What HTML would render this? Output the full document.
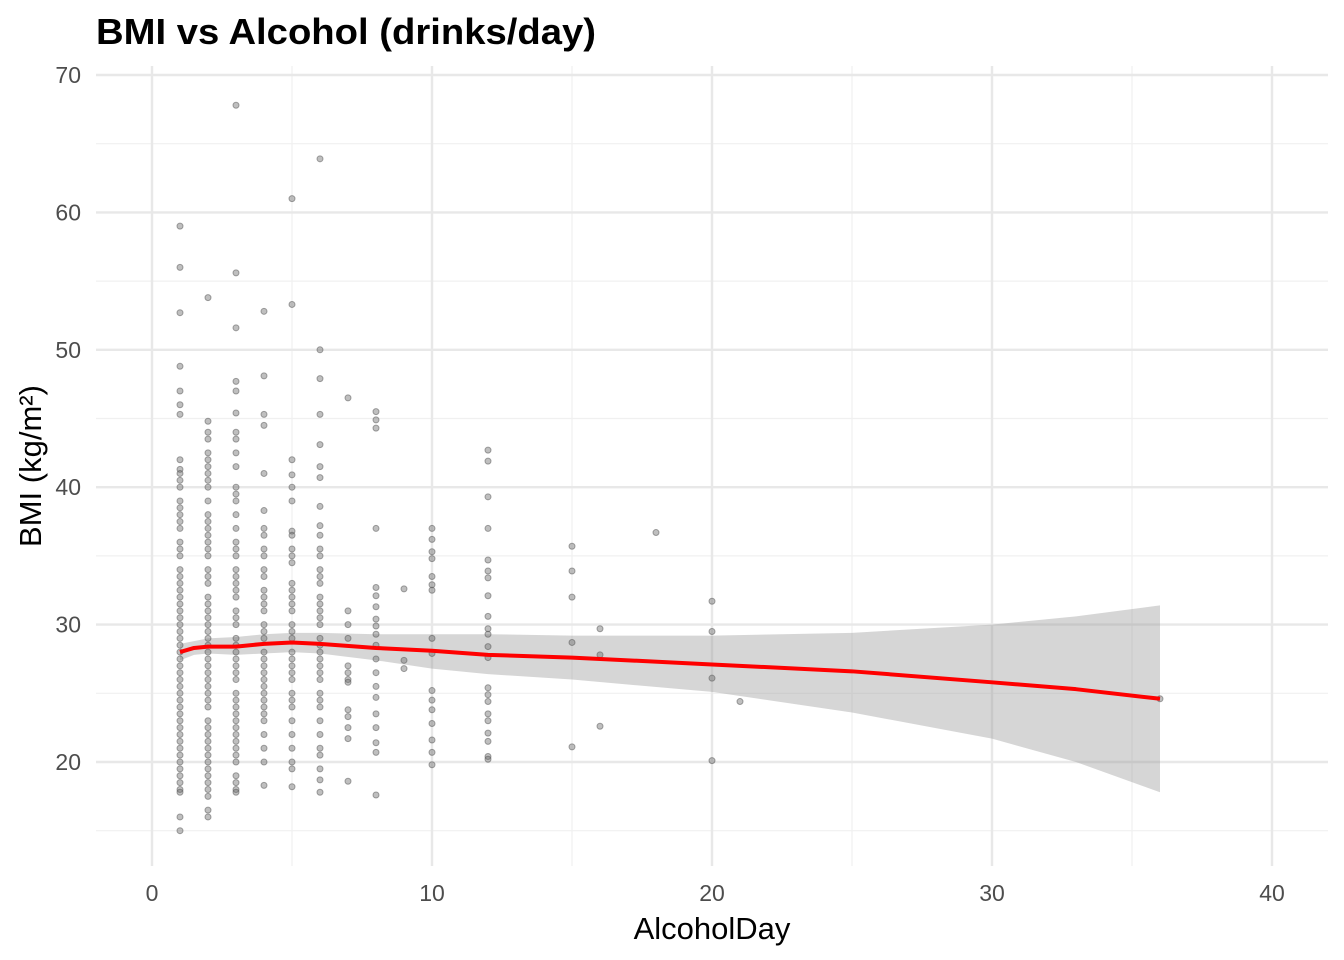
<!DOCTYPE html>
<html><head><meta charset="utf-8"><style>
body{margin:0;background:#fff;}
svg{display:block;font-family:"Liberation Sans",Arial,sans-serif;}
</style></head><body>
<svg id="chart" width="1344" height="960" viewBox="0 0 1344 960">
<rect width="1344" height="960" fill="#fff"/>
<text x="96" y="44" font-size="36" font-weight="bold" fill="#000" textLength="500" lengthAdjust="spacingAndGlyphs">BMI vs Alcohol (drinks/day)</text>
<g id="grid"></g>
<g id="band"></g>
<g id="points"></g>
<g id="line"></g>
<g id="axes"></g>
<text x="712" y="939" font-size="31" text-anchor="middle" fill="#000">AlcoholDay</text>
<text transform="translate(41,466) rotate(-90)" font-size="31" text-anchor="middle" fill="#000">BMI (kg/m²)</text>
</svg>
<script>
const xTicks=[0,10,20,30,40];
const yTicks=[20,30,40,50,60,70];
const pointX=[];
const pointY=[];
const cols={
1:[59,56,52.7,48.8,47,46,45.3,42,41.3,41,40.5,40,39,38.5,38,37.5,37,36,35.5,35,34,33.5,33,32.5,32,31.5,31,30.5,30,29.5,29,28.5,28,27.5,27,26.5,26,25.5,25,24.5,24,23.5,23,22.5,22,21.5,21,20.5,20,19.5,19,18.5,18,17.8,16,15],
2:[53.8,44.8,44,43.5,42.5,42,41.5,41,40.5,40,39,38,37.5,37,36.5,36,35.5,35,34,33.5,33,32,31.5,31,30.5,30,29.5,29,28.5,28,27.5,27,26.5,26,25.5,25,24.5,24,23,22.5,22,21.5,21,20.5,20,19.5,19,18.5,18,17.5,16.5,16],
3:[67.8,55.6,51.6,47.7,47,45.4,44,43.5,42.5,41.5,40,39.5,39,38,37,36,35.5,35,34,33.5,33,32.5,32,31,30.5,30,29,28.5,28,27.5,27,26.5,26,25,24.5,24,23.5,23,22.5,22,21.5,21,20.5,20,19,18.5,18,17.8],
4:[52.8,48.1,45.3,44.5,41,38.3,37,36.5,35.5,35,34,33.5,32.5,32,31.5,31,30,29.5,29,28,27.5,27,26.5,26,25.5,25,24.5,24,23.5,23,22,21,20,18.3],
5:[61,53.3,42,40.9,40,39,36.8,36.5,35.5,35,34.5,33,32.5,32,31.5,31,30,29.5,29,28,27.5,27,26.5,26,25,24.5,24,23,22,21,20,19.5,18.2],
6:[63.9,50,47.9,45.3,43.1,41.5,40.7,38.6,37.2,36.5,35.5,35,34,33.5,33,32,31.5,31,30.5,30,29,28.5,28,27.5,27,26.5,26,25,24.5,24,23,22,21,20.5,19.5,18.7,17.8],
7:[46.5,31,30,29,27,26.5,26,25.8,23.8,23.3,22.5,21.7,18.6],
8:[45.5,44.9,44.3,37,32.7,32.1,31.3,30.4,29.9,29.3,28.5,27.5,26.5,25.5,24.7,23.5,22.5,21.4,20.7,17.6],
9:[32.6,27.4,26.8],
10:[37,36.2,35.3,34.8,33.5,32.9,32.5,29,27.9,25.2,24.5,23.8,22.8,21.6,20.7,19.8],
12:[42.7,41.9,39.3,37,34.7,33.9,33.4,32.1,30.6,29.7,29.3,28.4,27.6,25.4,24.9,24.4,23.5,23,22.1,21.5,20.4,20.2],
15:[35.7,33.9,32,28.7,21.1],
16:[29.7,27.8,22.6],
18:[36.7],
20:[31.7,29.5,26.1,20.1],
21:[24.4],
36:[24.6]
};
const lineX=[1,1.5,2,3,4,5,6,8,10,12,15,20,25,30,33,36];
const lineY=[28.0,28.3,28.4,28.4,28.6,28.7,28.6,28.3,28.1,27.8,27.6,27.1,26.6,25.8,25.3,24.6];
const bandUpper=[28.6,28.8,29.0,29.1,29.3,29.4,29.4,29.3,29.3,29.3,29.2,29.2,29.4,30.0,30.6,31.4];
const bandLower=[27.4,27.8,27.9,27.8,27.9,28.0,27.9,27.4,26.8,26.4,26.0,25.1,23.6,21.7,20.0,17.8];
for(const k in cols){cols[k].forEach(v=>{pointX.push(+k);pointY.push(v);});}

const sx=v=>152+v*28;
const sy=v=>762-(v-20)*13.74;
const NS="http://www.w3.org/2000/svg";
function mk(tag,attrs,parent){const e=document.createElementNS(NS,tag);for(const a in attrs)e.setAttribute(a,attrs[a]);parent.appendChild(e);return e;}
const grid=document.getElementById('grid'),axes=document.getElementById('axes');
const L=96,R=1328,T=66,B=866;
for(let i=0;i<xTicks.length-1;i++){const m=(xTicks[i]+xTicks[i+1])/2;const g=mk('line',{x1:sx(m),x2:sx(m),y1:T,y2:B,stroke:'#f0f0f0','stroke-width':1.2},grid);

}
[15,25,35,45,55,65].forEach(m=>{const g=mk('line',{x1:L,x2:R,y1:sy(m),y2:sy(m),stroke:'#f0f0f0','stroke-width':1.2},grid);

});
xTicks.forEach(t=>{const g=mk('line',{x1:sx(t),x2:sx(t),y1:T,y2:B,stroke:'#e8e8e8','stroke-width':2.4},grid);


const tx=mk('text',{x:sx(t),y:901,'font-size':23,'text-anchor':'middle',fill:'#4d4d4d'},axes);tx.textContent=t;

});
yTicks.forEach(t=>{const g=mk('line',{x1:L,x2:R,y1:sy(t),y2:sy(t),stroke:'#e8e8e8','stroke-width':2.4},grid);


const tx=mk('text',{x:81,y:sy(t)+8,'font-size':23,'text-anchor':'end',fill:'#4d4d4d'},axes);tx.textContent=t;

});
let d='M'+lineX.map((x,i)=>sx(x)+','+sy(bandUpper[i])).join('L');
for(let i=lineX.length-1;i>=0;i--)d+='L'+sx(lineX[i])+','+sy(bandLower[i]);
const band=mk('path',{d:d+'Z',fill:'#999',opacity:0.4},document.getElementById('band'));


const pg=document.getElementById('points');
pointX.forEach((x,i)=>{const c=mk('circle',{cx:sx(x),cy:sy(pointY[i]),r:3,fill:'#707070','fill-opacity':0.45,stroke:'#505050','stroke-opacity':0.5,'stroke-width':1},pg);

});
const ln=mk('path',{d:'M'+lineX.map((x,i)=>sx(x)+','+sy(lineY[i])).join('L'),fill:'none',stroke:'#ff0000','stroke-width':4,'stroke-linejoin':'round'},document.getElementById('line'));


</script>
</body></html>
